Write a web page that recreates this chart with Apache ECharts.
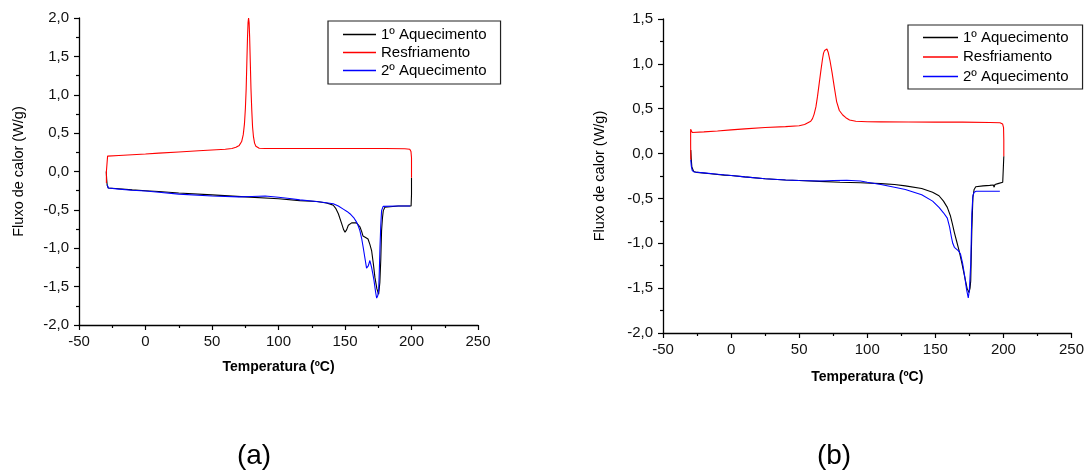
<!DOCTYPE html>
<html>
<head>
<meta charset="utf-8">
<script src="https://cdn.jsdelivr.net/npm/echarts@6/dist/echarts.min.js"></script>
<style>
  html, body { margin: 0; padding: 0; background: #fff; }
  #chart { width: 1087px; height: 474px; }
</style>
</head>
<body>
<div id="chart"></div>
<script>
// DSC curves: heat flow (W/g) versus temperature (ºC), points as [T, flow]
const seriesNames = ['1º Aquecimento', 'Resfriamento', '2º Aquecimento'];
const panelLabels = ['(a)', '(b)'];
const xTicks = { min: -50, max: 250, interval: 50 };
const yTicksA = { min: -2, max: 2, interval: 0.5 };
const yTicksB = { min: -2, max: 1.5, interval: 0.5 };

// Panel (a)
const heat1A = [
  [-29.5, 0.0], [-29.2, -0.1], [-28.8, -0.18], [-28, -0.215], [-20, -0.225], [-10, -0.24],
  [0, -0.25], [10, -0.26], [25, -0.28], [50, -0.305], [75, -0.33], [100, -0.355],
  [116, -0.38], [129, -0.39], [136, -0.41], [139, -0.425], [141.2, -0.44], [143, -0.48],
  [145, -0.55], [147.5, -0.68], [149, -0.76], [150, -0.79], [151.2, -0.76], [152.5, -0.70],
  [155, -0.67], [158.7, -0.67], [160, -0.69], [161.2, -0.72], [162.5, -0.78], [163.5, -0.84],
  [165.5, -0.86], [167.3, -0.88], [168.7, -0.95], [170, -1.03], [171.3, -1.2], [172.5, -1.38],
  [174, -1.53], [175.3, -1.60], [176.2, -1.45], [176.9, -1.15], [177.5, -0.77], [178.2, -0.6],
  [178.8, -0.51], [180, -0.465], [181, -0.455], [190, -0.45], [199.7, -0.45], [200, -0.3], [200, -0.08]
];
const coolA = [
  [200, -0.08], [200, 0.18], [199.6, 0.26], [198.7, 0.29], [195, 0.297], [180, 0.30], [150, 0.30],
  [120, 0.30], [100, 0.30], [90, 0.30], [85.5, 0.303], [84, 0.31], [83, 0.33], [82, 0.37],
  [81.2, 0.45], [80.5, 0.58], [79.9, 0.80], [79.3, 1.08], [78.8, 1.42], [78.3, 1.75], [77.9, 1.94],
  [77.5, 2.0], [77.1, 1.94], [76.7, 1.75], [76.2, 1.42], [75.7, 1.08], [75.1, 0.82], [74.4, 0.62],
  [73.5, 0.48], [72.3, 0.39], [70.5, 0.34], [68, 0.315], [65, 0.30], [60, 0.29], [50, 0.28],
  [40, 0.27], [25, 0.255], [10, 0.24], [0, 0.228], [-10, 0.218], [-20, 0.208], [-28.5, 0.20],
  [-29.3, 0.20], [-29.4, 0.0], [-29.4, -0.15]
];
const heat2A = [
  [-28.8, -0.17], [-28, -0.215], [-20, -0.23], [-10, -0.245], [0, -0.255], [10, -0.27],
  [25, -0.295], [50, -0.32], [70, -0.33], [80, -0.325], [90, -0.32], [100, -0.335],
  [110, -0.355], [116, -0.37], [125, -0.385], [133, -0.40], [141.2, -0.42], [145, -0.45],
  [148.7, -0.49], [151.5, -0.52], [153.7, -0.55], [156.5, -0.6], [158.7, -0.66], [160, -0.71],
  [161.2, -0.77], [162.5, -0.87], [163.7, -0.99], [165, -1.13], [166.2, -1.26], [167.5, -1.23],
  [168.7, -1.16], [170, -1.25], [171, -1.34], [171.8, -1.42], [173, -1.57], [173.8, -1.65],
  [174.6, -1.62], [175.3, -1.55], [175.8, -1.3], [176.3, -0.99], [176.9, -0.7], [177.5, -0.51],
  [178.7, -0.455], [180, -0.45], [190, -0.45], [199, -0.45]
];

// Panel (b)
const heat1B = [
  [-29.6, 0.04], [-29.3, -0.05], [-28.8, -0.15], [-27.5, -0.2], [-25, -0.21], [-15, -0.225],
  [-5, -0.24], [0, -0.245], [10, -0.26], [25, -0.28], [40, -0.295], [50, -0.30], [65, -0.31],
  [80, -0.32], [95, -0.325], [110, -0.335], [120, -0.345], [128, -0.36], [140, -0.39],
  [148, -0.43], [152.7, -0.47], [156, -0.53], [158.8, -0.60], [161, -0.69], [162.5, -0.78],
  [164, -0.88], [165.7, -0.98], [167.4, -1.08], [169.5, -1.22], [171.5, -1.37], [173.3, -1.50],
  [174.7, -1.55], [175.5, -1.50], [176, -1.42], [176.8, -0.86], [177.6, -0.49], [178.5, -0.40],
  [179.7, -0.37], [185, -0.36], [190, -0.355], [192.6, -0.35], [193.2, -0.375], [193.8, -0.345],
  [196, -0.335], [199.5, -0.32], [200.2, -0.30], [200.3, -0.03]
];
const coolB = [
  [200.3, -0.03], [200.3, 0.15], [200.1, 0.29], [199.4, 0.33], [197.5, 0.343], [190, 0.347],
  [170, 0.35], [150, 0.351], [130, 0.352], [110, 0.353], [100, 0.354], [91.6, 0.36], [87, 0.375],
  [84.3, 0.40], [82, 0.43], [79.5, 0.48], [77.5, 0.58], [75.8, 0.74], [74.2, 0.90], [72.6, 1.04],
  [71.3, 1.13], [70.4, 1.165], [69.6, 1.17], [68.7, 1.15], [67.9, 1.12], [67.2, 1.06],
  [66, 0.93], [64.7, 0.78], [63.5, 0.64], [62.3, 0.52], [61, 0.44], [59.8, 0.39], [58.5, 0.36],
  [57.4, 0.34], [54, 0.325], [50, 0.31], [40, 0.30], [25, 0.29], [10, 0.275], [0, 0.264],
  [-10, 0.252], [-20, 0.242], [-28.5, 0.235], [-29.4, 0.24], [-29.7, 0.27], [-29.7, 0.1],
  [-29.6, -0.07]
];
const heat2B = [
  [-29.6, -0.07], [-29.2, -0.14], [-28.5, -0.19], [-27, -0.205], [-20, -0.215], [-10, -0.23],
  [0, -0.245], [10, -0.26], [25, -0.28], [40, -0.295], [50, -0.30], [65, -0.305], [75, -0.30],
  [85, -0.298], [95, -0.305], [100, -0.32], [110, -0.345], [120, -0.375], [128, -0.40],
  [140, -0.46], [148, -0.53], [152.7, -0.60], [156, -0.66], [158.8, -0.72], [160.5, -0.82],
  [161.8, -0.93], [162.8, -1.0], [164, -1.045], [165.5, -1.065], [167, -1.085], [168.5, -1.12],
  [170, -1.22], [171.5, -1.36], [173, -1.52], [174.2, -1.61], [175, -1.52], [176, -1.23],
  [176.8, -0.67], [177.6, -0.47], [178.5, -0.43], [180, -0.42], [190, -0.42], [197.4, -0.42]
];

const FONT = '"Liberation Sans", Arial, sans-serif';
const lineColors = ['#000000', '#ff0000', '#0000ff'];

function fmtComma(v) { return v.toFixed(1).replace('.', ','); }

function xAxisFor(gridIndex, nameGap) {
  return {
    type: 'value', gridIndex: gridIndex,
    min: xTicks.min, max: xTicks.max, interval: xTicks.interval,
    name: 'Temperatura (ºC)', nameLocation: 'middle', nameGap: nameGap,
    nameTextStyle: { fontFamily: FONT, fontSize: 14, fontWeight: 'bold', color: '#000' },
    axisLine: { show: true, onZero: false, lineStyle: { color: '#000', width: 1.3 } },
    axisTick: { show: true, inside: false, length: 5, lineStyle: { color: '#000', width: 1.2 } },
    minorTick: { show: true, splitNumber: 2, length: 3, lineStyle: { color: '#000', width: 1.2 } },
    axisLabel: { fontFamily: FONT, fontSize: 15, color: '#111', margin: 9 },
    splitLine: { show: false }
  };
}
function yAxisFor(gridIndex, ticks, nameGap) {
  return {
    type: 'value', gridIndex: gridIndex,
    min: ticks.min, max: ticks.max, interval: ticks.interval,
    name: 'Fluxo de calor (W/g)', nameLocation: 'middle', nameGap: nameGap,
    nameTextStyle: { fontFamily: FONT, fontSize: 14.5, color: '#000' },
    axisLine: { show: true, onZero: false, lineStyle: { color: '#000', width: 1.3 } },
    axisTick: { show: true, inside: false, length: 5, lineStyle: { color: '#000', width: 1.2 } },
    minorTick: { show: true, splitNumber: 2, length: 3, lineStyle: { color: '#000', width: 1.2 } },
    axisLabel: { fontFamily: FONT, fontSize: 15, color: '#111', margin: 10, formatter: fmtComma },
    splitLine: { show: false }
  };
}
function legendFor(left, top, pad, gap, iconW) {
  return {
    orient: 'vertical', left: left, top: top,
    data: seriesNames,
    icon: 'rect', itemWidth: iconW, itemHeight: 1.4, itemGap: gap,
    padding: pad,
    borderColor: '#222', borderWidth: 1.2, borderRadius: 0,
    backgroundColor: '#fff',
    selectedMode: false,
    textStyle: { fontFamily: FONT, fontSize: 15, color: '#000', padding: [0, 0, 0, 0] }
  };
}
function line(name, data, idx, color) {
  return {
    type: 'line', name: name, data: data,
    xAxisIndex: idx, yAxisIndex: idx,
    showSymbol: false, symbol: 'none', smooth: false,
    lineStyle: { color: color, width: 1.1 },
    itemStyle: { color: color },
    animation: false, z: 3
  };
}

const chart = echarts.init(document.getElementById('chart'), null, { renderer: 'canvas' });
chart.setOption({
  backgroundColor: '#ffffff',
  animation: false,
  grid: [
    { left: 79, top: 18, width: 399, height: 307 },
    { left: 663, top: 19, width: 409, height: 314 }
  ],
  xAxis: [xAxisFor(0, 35), xAxisFor(1, 37)],
  yAxis: [yAxisFor(0, yTicksA, 53), yAxisFor(1, yTicksB, 56)],
  legend: [
    legendFor(328, 21, [6, 14, 6, 15], 3, 33),
    legendFor(908, 25, [5, 14, 5, 15], 4.5, 35)
  ],
  series: [
    line(seriesNames[0], heat1A, 0, lineColors[0]),
    line(seriesNames[1], coolA, 0, lineColors[1]),
    line(seriesNames[2], heat2A, 0, lineColors[2]),
    line(seriesNames[0], heat1B, 1, lineColors[0]),
    line(seriesNames[1], coolB, 1, lineColors[1]),
    line(seriesNames[2], heat2B, 1, lineColors[2])
  ],
  graphic: [
    { type: 'text', x: 254, y: 456, style: { text: panelLabels[0], fontFamily: FONT, fontSize: 28, fill: '#000', textAlign: 'center', textVerticalAlign: 'middle' } },
    { type: 'text', x: 834, y: 456, style: { text: panelLabels[1], fontFamily: FONT, fontSize: 28, fill: '#000', textAlign: 'center', textVerticalAlign: 'middle' } }
  ]
});
</script>
</body>
</html>
